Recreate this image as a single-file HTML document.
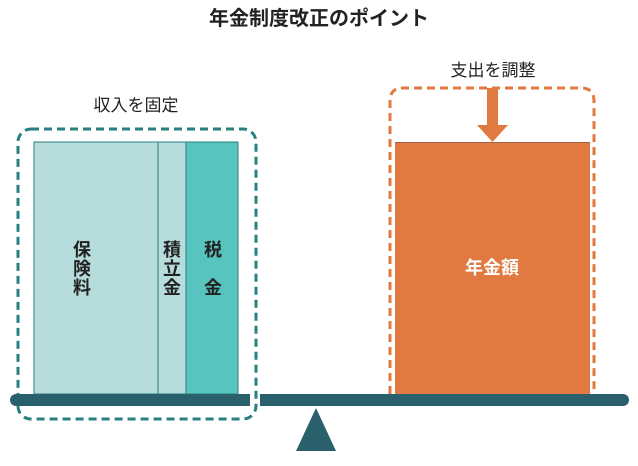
<!DOCTYPE html>
<html><head><meta charset="utf-8"><style>
body{margin:0;background:#fff;width:638px;height:461px;overflow:hidden}
svg text{font-family:"Liberation Sans","Noto Sans CJK JP",sans-serif}
</style></head><body>
<svg width="638" height="461" viewBox="0 0 638 461">
<text x="319" y="25" text-anchor="middle" font-size="20" font-weight="bold" fill="#222">年金制度改正のポイント</text>
<text x="136" y="111" text-anchor="middle" font-size="17" fill="#222">収入を固定</text>
<text x="493" y="76" text-anchor="middle" font-size="17" fill="#222">支出を調整</text>
<rect x="18" y="129" width="238" height="290" rx="13" fill="none" stroke="#2a7f80" stroke-width="3" stroke-dasharray="8,5"/>
<rect x="34" y="142" width="124" height="252" fill="#b6dcdc" stroke="#2a7f80" stroke-width="1"/>
<rect x="158" y="142" width="28" height="252" fill="#b6dcdc" stroke="#2a7f80" stroke-width="1"/>
<rect x="186" y="142" width="52" height="252" fill="#58c4c0" stroke="#2a7f80" stroke-width="1"/>
<g font-size="18" font-weight="bold" fill="#222" text-anchor="middle">
<text x="82" y="256">保</text><text x="82" y="275">険</text><text x="82" y="294">料</text>
<text x="172" y="256">積</text><text x="172" y="275">立</text><text x="172" y="294">金</text>
<text x="213" y="256">税</text><text x="213" y="294">金</text>
</g>
<path d="M390,394 V101 Q390,88 403,88 H581 Q594,88 594,101 V394" fill="none" stroke="#e07a40" stroke-width="3" stroke-dasharray="8,5"/>
<rect x="395" y="142" width="195" height="252" fill="#e07a40"/>
<line x1="395" y1="142.5" x2="590" y2="142.5" stroke="#a0604a" stroke-width="1"/>
<rect x="487" y="88" width="11" height="38" fill="#e07a40"/>
<polygon points="477,125 508,125 492.5,142" fill="#e07a40"/>
<text x="492" y="274" text-anchor="middle" font-size="18" font-weight="bold" fill="#fff">年金額</text>
<rect x="10" y="394" width="240" height="12" rx="6" fill="#2a5f6c"/>
<rect x="23" y="394" width="227" height="12" fill="#2a5f6c"/>
<rect x="260" y="394" width="369" height="12" rx="6" fill="#2a5f6c"/>
<rect x="260" y="394" width="300" height="12" fill="#2a5f6c"/>
<polygon points="316,408 296,451 336,451" fill="#2a5f6c"/>
</svg>
</body></html>
